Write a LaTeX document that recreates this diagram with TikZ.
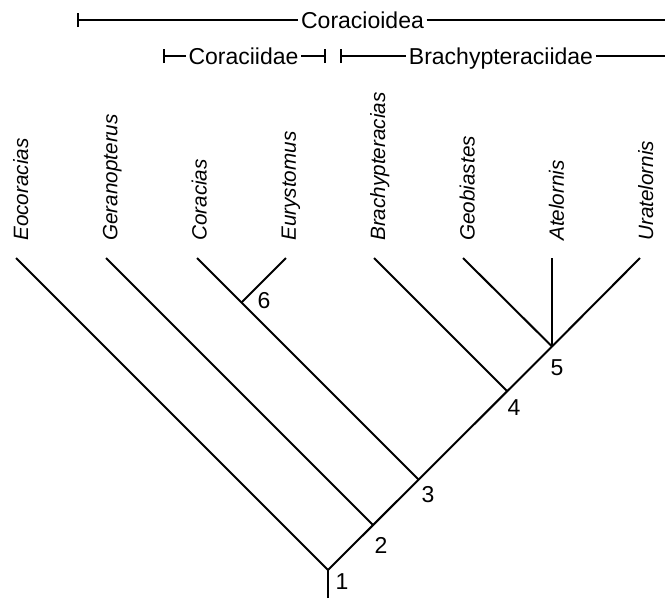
\documentclass[tikz,border=0pt]{standalone}
\usepackage{fontspec}
\setmainfont{Liberation Sans}
\begin{document}
\begin{tikzpicture}[x=1pt,y=-1pt,
  branch/.style={line width=2pt},
  bar/.style={line width=1.3pt},
  taxon/.style={rotate=90, anchor=base west, inner sep=0pt, font=\fontsize{20.7}{24}\selectfont\itshape},
  clade/.style={anchor=base, inner xsep=2.5pt, inner ysep=0pt, font=\fontsize{23}{27}\selectfont},
  num/.style={inner sep=0pt, font=\fontsize{23}{27}\selectfont}]
\useasboundingbox (0,0) rectangle (665,598);

% tips
\coordinate (tEo) at (16,258);
\coordinate (tGe) at (106,258);
\coordinate (tCo) at (197,258);
\coordinate (tEu) at (286,258);
\coordinate (tBr) at (374,258);
\coordinate (tGb) at (463,258);
\coordinate (tAt) at (552,258);
\coordinate (tUr) at (640,258);
% internal nodes
\coordinate (base) at (328,598);
\coordinate (n1) at (328,570);
\coordinate (n2) at (373,525);
\coordinate (n3) at (418.5,479.5);
\coordinate (n4) at (507,391);
\coordinate (n5) at (552,346.5);
\coordinate (n6) at (241.5,302.5);

% branches
\draw[branch] (base) -- (n1);
\draw[branch] (n1) -- (tEo);
\draw[branch] (n1) -- (n5);
\draw[branch] (n2) -- (tGe);
\draw[branch] (n3) -- (tCo);
\draw[branch] (n6) -- (tEu);
\draw[branch] (n4) -- (tBr);
\draw[branch] (n5) -- (tGb);
\draw[branch] (n5) -- (tAt);
\draw[branch] (n5) -- (tUr);

% taxon labels
\node[taxon] (lEo) at (28,241) {Eocoracias};
\node[taxon] (lGe) at (117.3,241) {Geranopterus};
\node[taxon] (lCo) at (206.6,241) {Coracias};
\node[taxon] (lEu) at (295.9,241) {Eurystomus};
\node[taxon] (lBr) at (385.2,241) {Brachypteracias};
\node[taxon] (lGb) at (474.5,241) {Geobiastes};
\node[taxon] (lAt) at (563.8,241) {Atelornis};
\node[taxon] (lUr) at (653.1,241) {Uratelornis};

% node numbers
\node[num] (k1) at (342,582) {1};
\node[num] (k2) at (381,545) {2};
\node[num] (k3) at (428,495) {3};
\node[num] (k4) at (514,408) {4};
\node[num] (k5) at (557,368) {5};
\node[num] (k6) at (264,301) {6};

% clade brackets
\coordinate (cCoL) at (78,20);
\coordinate (cCoR) at (665,20);
\node[clade] (cCo) at (362.5,28) {Coracioidea};
\draw[bar] (cCoL) -- (cCoL -| cCo.west);
\draw[bar] (cCoR -| cCo.east) -- (cCoR);
\draw[bar] ([yshift=-7pt]cCoL) -- ([yshift=7pt]cCoL);

\coordinate (cCiL) at (164,56);
\coordinate (cCiR) at (325,56);
\node[clade] (cCi) at (243.5,64) {Coraciidae};
\draw[bar] (cCiL) -- (cCiL -| cCi.west);
\draw[bar] (cCiR -| cCi.east) -- (cCiR);
\draw[bar] ([yshift=-7pt]cCiL) -- ([yshift=7pt]cCiL);
\draw[bar] ([yshift=-7pt]cCiR) -- ([yshift=7pt]cCiR);

\coordinate (cBrL) at (341,56);
\coordinate (cBrR) at (665,56);
\node[clade] (cBr) at (501,64) {Brachypteraciidae};
\draw[bar] (cBrL) -- (cBrL -| cBr.west);
\draw[bar] (cBrR -| cBr.east) -- (cBrR);
\draw[bar] ([yshift=-7pt]cBrL) -- ([yshift=7pt]cBrL);
\end{tikzpicture}
\end{document}
